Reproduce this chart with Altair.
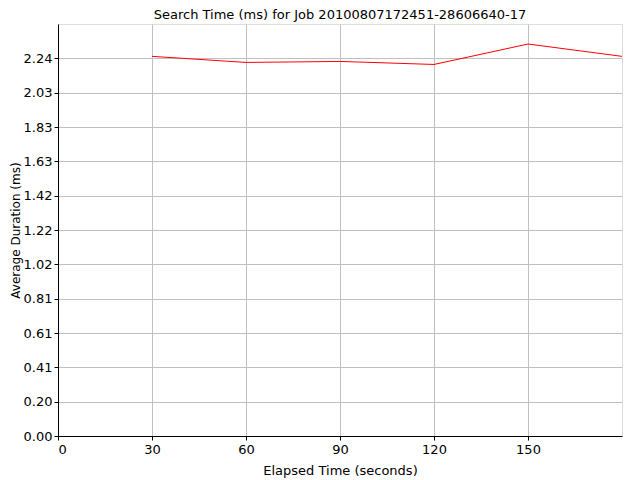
import altair as alt
import pandas as pd

elapsed = [30, 60, 90, 120, 150, 180]
duration = [2.248, 2.212, 2.218, 2.200, 2.321, 2.248]

y_ticks = [0.0, 0.2033, 0.4066, 0.6099, 0.8132, 1.0165, 1.2198, 1.4231, 1.6264, 1.8297, 2.0330, 2.2363]
x_ticks = [0, 30, 60, 90, 120, 150]

df = pd.DataFrame({"t": elapsed, "d": duration})

FONT = "DejaVu Sans"
FS = 13

chart = alt.Chart(df).mark_line(color="#ff0000", strokeWidth=1, clip=True).encode(
    x=alt.X("t:Q", scale=alt.Scale(domain=[0, 180], nice=False, zero=True),
            axis=alt.Axis(values=x_ticks, title="Elapsed Time (seconds)", format="d",
                          grid=True, gridColor="#c0c0c0", gridWidth=1,
                          domainColor="#000000", tickColor="#000000", tickSize=4,
                          labelColor="#000000", labelFont=FONT, labelFontSize=FS,
                          labelPadding=3, titleFont=FONT, titleFontSize=FS,
                          titleFontWeight="normal", titleColor="#000000", titlePadding=8)),
    y=alt.Y("d:Q", scale=alt.Scale(domain=[0, 2.4396], nice=False),
            axis=alt.Axis(values=y_ticks, title="Average Duration (ms)", format=".2f",
                          grid=True, gridColor="#c0c0c0", gridWidth=1,
                          domainColor="#000000", tickColor="#000000", tickSize=4,
                          labelColor="#000000", labelFont=FONT, labelFontSize=FS,
                          labelPadding=2, titleFont=FONT, titleFontSize=12,
                          titleFontWeight="normal", titleColor="#000000", titlePadding=1)),
).properties(
    width=564, height=412,
    title=alt.TitleParams("Search Time (ms) for Job 20100807172451-28606640-17",
                          font=FONT, fontSize=13, fontWeight="normal", color="#000000",
                          offset=2),
    autosize=alt.AutoSizeParams(type="none"),
    padding={"left": 50, "top": 16, "right": 10, "bottom": 44},
).configure_view(stroke=None).configure(background="#ffffff")

chart.save("out.html", embed_options={"renderer": "svg", "actions": False})
